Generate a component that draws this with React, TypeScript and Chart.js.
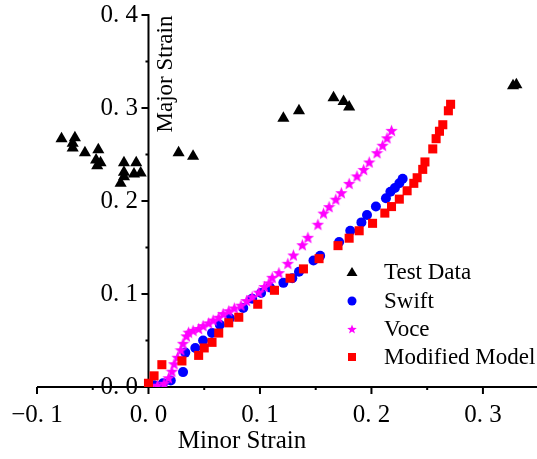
import React, { useEffect, useRef } from 'react';
import { Chart, registerables } from 'chart.js';

Chart.register(...registerables);

// ---- data (minor strain, major strain) ----
const testData: [number, number][] = [
  [-0.078, 0.267], [-0.068, 0.262], [-0.066, 0.268], [-0.068, 0.257], [-0.057, 0.252],
  [-0.045, 0.255], [-0.047, 0.244], [-0.043, 0.241], [-0.046, 0.238], [-0.022, 0.241],
  [-0.022, 0.231], [-0.022, 0.226], [-0.025, 0.219], [-0.011, 0.241], [-0.007, 0.230],
  [-0.013, 0.229], [0.027, 0.252], [0.040, 0.248], [0.121, 0.289], [0.135, 0.297],
  [0.166, 0.311], [0.175, 0.307], [0.180, 0.301], [0.327, 0.324], [0.330, 0.325],
];

const swiftData: [number, number][] = [
  [0.005, 0.002], [0.013, 0.004], [0.020, 0.007], [0.031, 0.016], [0.033, 0.037],
  [0.042, 0.042], [0.049, 0.050], [0.057, 0.058], [0.064, 0.067], [0.073, 0.074],
  [0.085, 0.085], [0.093, 0.095], [0.101, 0.101], [0.109, 0.107], [0.121, 0.112],
  [0.129, 0.117], [0.135, 0.124], [0.148, 0.136], [0.154, 0.141], [0.171, 0.156],
  [0.181, 0.168], [0.191, 0.177], [0.196, 0.185], [0.204, 0.194], [0.213, 0.203],
  [0.217, 0.210], [0.221, 0.214], [0.225, 0.219], [0.228, 0.224],
];

const voceData: [number, number][] = [
  [0.002, 0.001], [0.008, 0.002], [0.014, 0.004], [0.018, 0.010], [0.021, 0.017],
  [0.023, 0.025], [0.026, 0.032], [0.029, 0.040], [0.031, 0.047], [0.034, 0.055],
  [0.036, 0.059], [0.040, 0.061], [0.045, 0.063], [0.049, 0.066], [0.054, 0.069],
  [0.058, 0.072], [0.063, 0.075], [0.067, 0.079], [0.072, 0.082], [0.077, 0.085],
  [0.083, 0.088], [0.088, 0.093], [0.093, 0.097], [0.099, 0.102], [0.104, 0.108],
  [0.108, 0.112], [0.111, 0.118], [0.117, 0.123], [0.125, 0.133], [0.130, 0.142],
  [0.138, 0.153], [0.143, 0.161], [0.152, 0.175], [0.157, 0.187], [0.162, 0.194],
  [0.168, 0.202], [0.173, 0.209], [0.180, 0.219], [0.187, 0.227], [0.193, 0.234],
  [0.198, 0.242], [0.205, 0.252], [0.210, 0.260], [0.214, 0.268], [0.218, 0.276],
];

const modifiedData: [number, number][] = [
  [0.000, 0.004], [0.005, 0.012], [0.012, 0.024], [0.030, 0.028], [0.045, 0.034],
  [0.050, 0.042], [0.057, 0.048], [0.063, 0.058], [0.072, 0.069], [0.081, 0.075],
  [0.098, 0.089], [0.113, 0.104], [0.127, 0.117], [0.139, 0.127], [0.153, 0.138],
  [0.170, 0.152], [0.180, 0.160], [0.189, 0.168], [0.201, 0.176], [0.212, 0.187],
  [0.218, 0.194], [0.225, 0.202], [0.232, 0.211], [0.238, 0.219], [0.241, 0.225],
  [0.246, 0.234], [0.248, 0.242], [0.255, 0.256], [0.258, 0.267], [0.261, 0.275],
  [0.264, 0.282], [0.269, 0.297], [0.271, 0.304],
];

const seriesNames = ['Test Data', 'Swift', 'Voce', 'Modified Model'];
const seriesColors = ['#000000', '#0000ff', '#ff00ff', '#ff0000'];

const xTicks = [-0.1, 0, 0.1, 0.2, 0.3];
const xTickLabels = ['\u22120. 1', '0. 0', '0. 1', '0. 2', '0. 3'];
const xMinorTicks = [-0.05, 0.05, 0.15, 0.25];
const yTicks = [0, 0.1, 0.2, 0.3, 0.4];
const yTickLabels = ['0. 0', '0. 1', '0. 2', '0. 3', '0. 4'];
const yMinorTicks = [0.05, 0.15, 0.25, 0.35];

const xTitle = 'Minor Strain';
const yTitle = 'Major Strain';

const FONT = '"Liberation Serif", "Times New Roman", serif';

function starPath(ctx: CanvasRenderingContext2D, cx: number, cy: number, R: number) {
  const r = R * 0.42;
  ctx.beginPath();
  for (let i = 0; i < 10; i++) {
    const a = -Math.PI / 2 + (i * Math.PI) / 5;
    const rad = i % 2 === 0 ? R : r;
    ctx.lineTo(cx + rad * Math.cos(a), cy + rad * Math.sin(a));
  }
  ctx.closePath();
}

function makeStar(size: number, color: string) {
  const c = document.createElement('canvas');
  c.width = size;
  c.height = size;
  const ctx = c.getContext('2d')!;
  ctx.fillStyle = color;
  starPath(ctx, size / 2, size / 2 + size * 0.05, size / 2);
  ctx.fill();
  return c;
}

function labelFor(v: number, ticks: number[], labels: string[]) {
  let best = 0;
  for (let i = 0; i < ticks.length; i++) {
    if (Math.abs(ticks[i] - v) < Math.abs(ticks[best] - v)) best = i;
  }
  return labels[best];
}

const zeroPadding = (s: any) => {
  s.paddingTop = 0;
  s.paddingBottom = 0;
  s.paddingLeft = 0;
  s.paddingRight = 0;
};

const axesPlugin = {
  id: 'customAxes',
  beforeDatasetsDraw(chart: any) {
    const { ctx, chartArea } = chart;
    const xs = chart.scales.x;
    const ys = chart.scales.y;
    const x0 = xs.getPixelForValue(0);
    const yb = ys.getPixelForValue(0);
    ctx.save();
    ctx.strokeStyle = '#000';
    ctx.lineWidth = 2;
    ctx.beginPath();
    ctx.moveTo(chartArea.left, yb);
    ctx.lineTo(chartArea.right, yb);
    ctx.moveTo(x0, ys.getPixelForValue(0.4) - 1);
    ctx.lineTo(x0, yb);
    for (const v of xTicks) {
      const px = xs.getPixelForValue(v);
      ctx.moveTo(px, yb);
      ctx.lineTo(px, yb + 7);
    }
    for (const v of xMinorTicks) {
      const px = xs.getPixelForValue(v);
      ctx.moveTo(px, yb);
      ctx.lineTo(px, yb + 3);
    }
    for (const v of yTicks) {
      const py = ys.getPixelForValue(v);
      ctx.moveTo(x0, py);
      ctx.lineTo(x0 - 7, py);
    }
    for (const v of yMinorTicks) {
      const py = ys.getPixelForValue(v);
      ctx.moveTo(x0, py);
      ctx.lineTo(x0 - 3, py);
    }
    ctx.stroke();
    ctx.restore();
  },
  afterDraw(chart: any) {
    const { ctx } = chart;
    ctx.save();
    ctx.fillStyle = '#000';
    // axis titles
    ctx.font = `25px ${FONT}`;
    ctx.textAlign = 'center';
    ctx.textBaseline = 'middle';
    ctx.fillText(xTitle, 242, 441);
    ctx.save();
    ctx.translate(166, 74);
    ctx.rotate(-Math.PI / 2);
    ctx.font = `23px ${FONT}`;
    ctx.fillText(yTitle, 0, 0);
    ctx.restore();

    // legend
    const mx = 352;
    const tx = 384;
    const rows = [272, 301, 329, 357];
    ctx.font = `23px ${FONT}`;
    ctx.textAlign = 'left';
    ctx.textBaseline = 'middle';
    rows.forEach((y, i) => {
      ctx.fillStyle = seriesColors[i];
      ctx.beginPath();
      if (i === 0) {
        ctx.moveTo(mx, y - 5);
        ctx.lineTo(mx + 5.5, y + 4);
        ctx.lineTo(mx - 5.5, y + 4);
        ctx.closePath();
        ctx.fill();
      } else if (i === 1) {
        ctx.arc(mx, y, 4.5, 0, Math.PI * 2);
        ctx.fill();
      } else if (i === 2) {
        starPath(ctx, mx, y + 0.5, 5);
        ctx.fill();
      } else {
        ctx.rect(mx - 4, y - 4, 8, 8);
        ctx.fill();
      }
      ctx.fillStyle = '#000';
      ctx.fillText(seriesNames[i], tx, y + 1);
    });
    ctx.restore();
  },
};

export default function App() {
  const ref = useRef<HTMLCanvasElement>(null);

  useEffect(() => {
    const canvas = ref.current!;
    const star = makeStar(13, seriesColors[2]);
    const toPts = (arr: [number, number][]) => arr.map(([x, y]) => ({ x, y }));
    const chart = new Chart(canvas, {
      type: 'scatter',
      data: {
        datasets: [
          {
            label: seriesNames[0],
            data: toPts(testData),
            pointStyle: 'triangle',
            pointRadius: 7,
            pointHoverRadius: 7,
            backgroundColor: seriesColors[0],
            borderColor: seriesColors[0],
            borderWidth: 0,
            order: 4,
          },
          {
            label: seriesNames[1],
            data: toPts(swiftData),
            pointStyle: 'circle',
            pointRadius: 5,
            pointHoverRadius: 5,
            backgroundColor: seriesColors[1],
            borderColor: seriesColors[1],
            borderWidth: 0,
            order: 3,
          },
          {
            label: seriesNames[2],
            data: toPts(voceData),
            pointStyle: star as any,
            pointRadius: 6,
            pointHoverRadius: 6,
            backgroundColor: seriesColors[2],
            borderColor: seriesColors[2],
            borderWidth: 0,
            order: 2,
          },
          {
            label: seriesNames[3],
            data: toPts(modifiedData),
            pointStyle: 'rect',
            pointRadius: 6.4,
            pointHoverRadius: 6.4,
            backgroundColor: seriesColors[3],
            borderColor: seriesColors[3],
            borderWidth: 0,
            order: 1,
          },
        ],
      },
      options: {
        responsive: false,
        animation: false,
        events: [],
        layout: { autoPadding: false, padding: { left: 37, right: 0, top: 15, bottom: 0 } },
        plugins: {
          legend: { display: false },
          tooltip: { enabled: false },
          title: { display: false },
        },
        scales: {
          x: {
            type: 'linear',
            min: -0.1,
            max: 0.3485,
            position: 'bottom',
            grid: { display: false },
            border: { display: false },
            afterBuildTicks: (s: any) => {
              s.ticks = xTicks.map((v) => ({ value: v }));
            },
            afterFit: (s: any) => {
              s.height = 72;
              zeroPadding(s);
            },
            ticks: {
              padding: 5,
              color: '#000',
              maxRotation: 0,
              autoSkip: false,
              font: { size: 25, family: FONT },
              callback: (v: any) => labelFor(Number(v), xTicks, xTickLabels),
            },
          },
          y: {
            type: 'linear',
            min: 0,
            max: 0.4,
            position: { x: -0.0095 } as any,
            grid: { display: false },
            border: { display: false },
            afterBuildTicks: (s: any) => {
              s.ticks = yTicks.map((v) => ({ value: v }));
            },
            afterFit: (s: any) => {
              zeroPadding(s);
            },
            ticks: {
              padding: 0,
              color: '#000',
              autoSkip: false,
              font: { size: 25, family: FONT },
              callback: (v: any) => labelFor(Number(v), yTicks, yTickLabels),
            },
          },
        },
      },
      plugins: [axesPlugin],
    });
    return () => chart.destroy();
  }, []);

  return (
    <div style={{ position: 'absolute', left: 0, top: 0, width: 537, height: 459, background: '#fff' }}>
      <canvas ref={ref} width={537} height={459} style={{ display: 'block' }} />
    </div>
  );
}
